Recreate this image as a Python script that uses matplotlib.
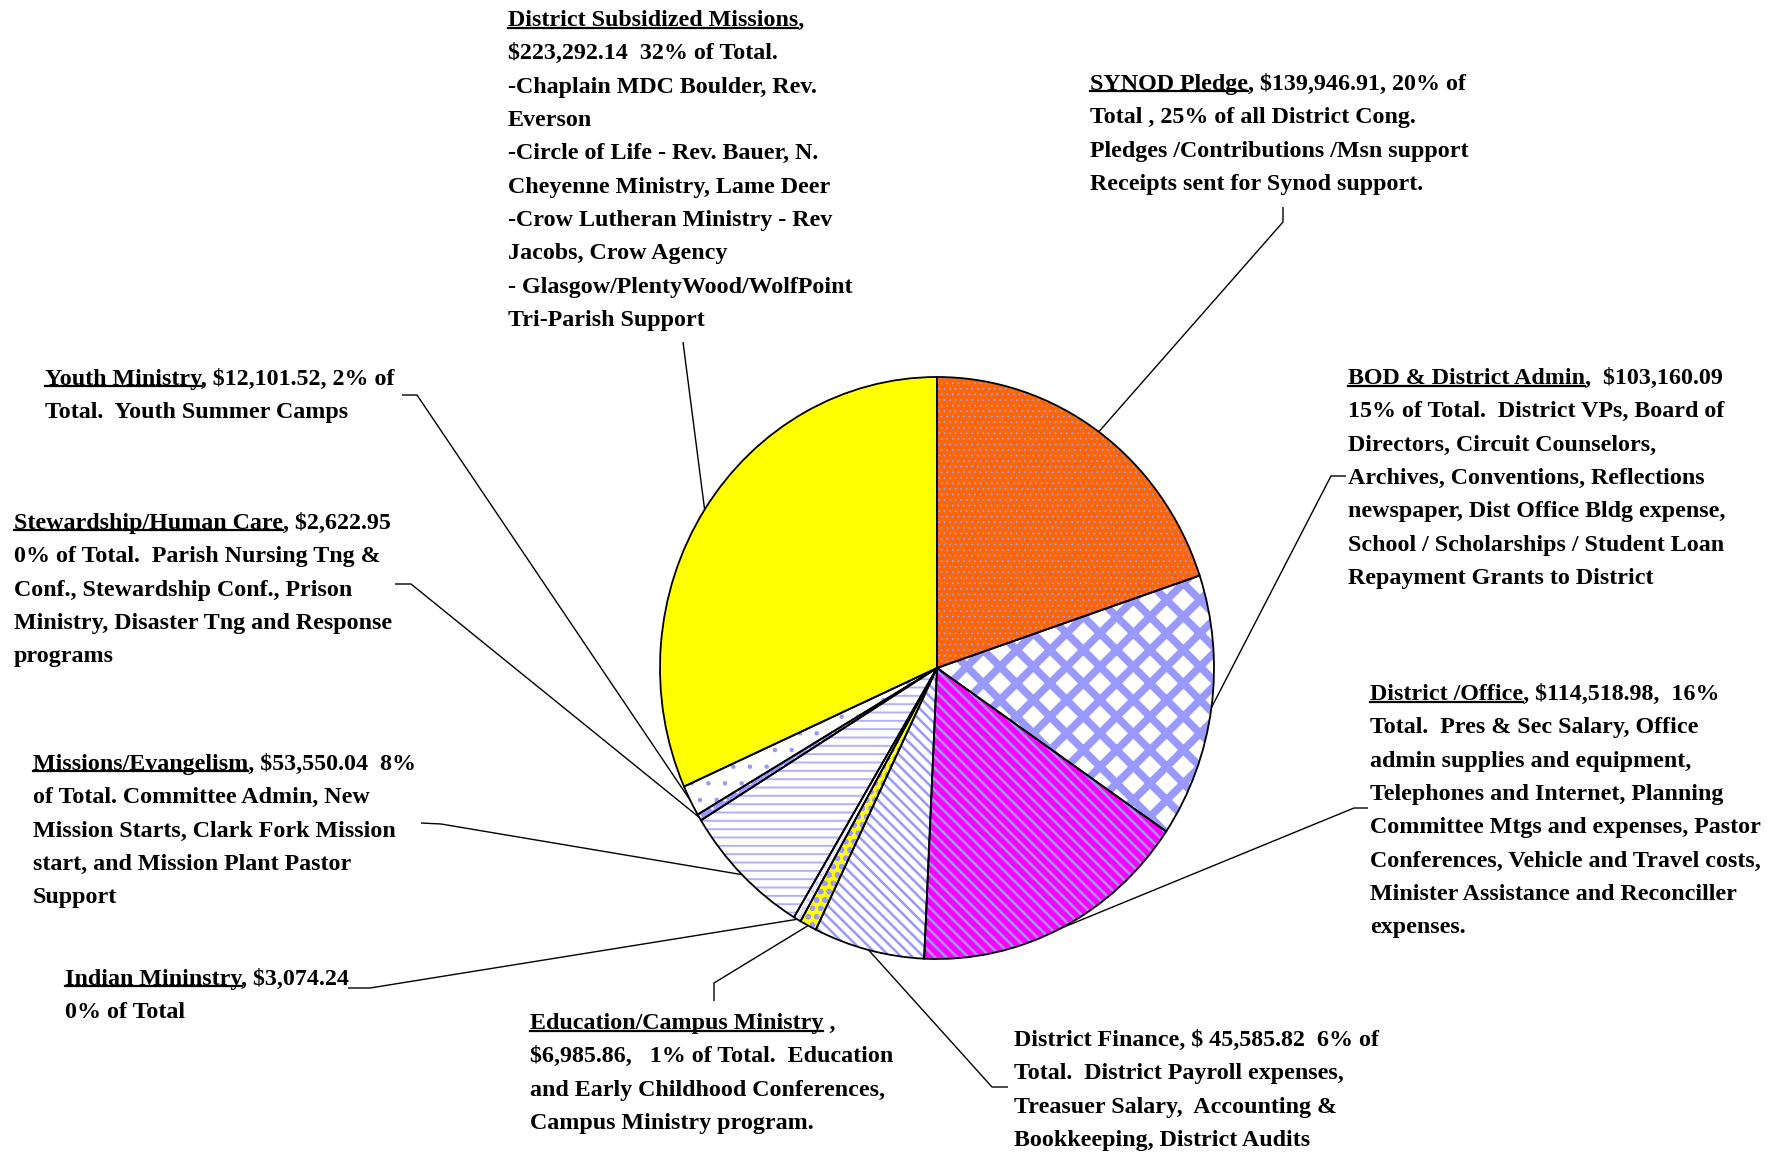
import matplotlib.pyplot as plt
import numpy as np

plt.rcParams['font.family'] = ['Liberation Serif', 'DejaVu Serif']
plt.rcParams['hatch.linewidth'] = 1.5

# district budget, slices listed clockwise from 12 o'clock
categories = ["SYNOD Pledge", "BOD & District Admin", "District /Office", "District Finance",
              "Education/Campus Ministry", "Indian Mininstry", "Missions/Evangelism",
              "Stewardship/Human Care", "Youth Ministry", "District Subsidized Missions"]
amounts = [139946.91, 103160.09, 114518.98, 45585.82, 6985.86,
           3074.24, 53550.04, 2622.95, 12101.52, 223292.14]

face_colors = ['#FF6600', 'white', '#FF00FF', 'white', '#FFFF00',
               '#EEEEFF', 'white', '#9999FF', 'white', '#FFFF00']
hatch_colors = ['#9999FF', '#9999FF', '#9999FF', '#9999FF', '#9999FF',
                '#CCCCFF', '#B0B0FF', 'white', '#9999FF', '#FFFF00']
hatches = ['...', 'x', '\\\\\\', '\\\\\\', 'oo', '..', '--', '..', '.', '']
hatch_widths = [0.7, 5.5, 1.8, 1.8, 1.5, 1.0, 1.4, 1.0, 0.8, 1.0]

label_texts = [
    "SYNOD Pledge, $139,946.91, 20% of\nTotal , 25% of all District Cong.\n"
    "Pledges /Contributions /Msn support\nReceipts sent for Synod support.",
    "BOD & District Admin,  $103,160.09\n15% of Total.  District VPs, Board of\n"
    "Directors, Circuit Counselors,\nArchives, Conventions, Reflections\n"
    "newspaper, Dist Office Bldg expense,\nSchool / Scholarships / Student Loan\n"
    "Repayment Grants to District",
    "District /Office, $114,518.98,  16%\nTotal.  Pres & Sec Salary, Office\n"
    "admin supplies and equipment,\nTelephones and Internet, Planning\n"
    "Committee Mtgs and expenses, Pastor\nConferences, Vehicle and Travel costs,\n"
    "Minister Assistance and Reconciller\nexpenses.",
    "District Finance, $ 45,585.82  6% of\nTotal.  District Payroll expenses,\n"
    "Treasuer Salary,  Accounting &\nBookkeeping, District Audits",
    "Education/Campus Ministry ,\n$6,985.86,   1% of Total.  Education\n"
    "and Early Childhood Conferences,\nCampus Ministry program.",
    "Indian Mininstry, $3,074.24\n0% of Total",
    "Missions/Evangelism, $53,550.04  8%\nof Total. Committee Admin, New\n"
    "Mission Starts, Clark Fork Mission\nstart, and Mission Plant Pastor\nSupport",
    "Stewardship/Human Care, $2,622.95\n0% of Total.  Parish Nursing Tng &\n"
    "Conf., Stewardship Conf., Prison\nMinistry, Disaster Tng and Response\nprograms",
    "Youth Ministry, $12,101.52, 2% of\nTotal.  Youth Summer Camps",
    "District Subsidized Missions,\n$223,292.14  32% of Total.\n"
    "-Chaplain MDC Boulder, Rev.\nEverson\n-Circle of Life - Rev. Bauer, N.\n"
    "Cheyenne Ministry, Lame Deer\n-Crow Lutheran Ministry - Rev\n"
    "Jacobs, Crow Agency\n- Glasgow/PlentyWood/WolfPoint\nTri-Parish Support",
]
underline_names = ["SYNOD Pledge", "BOD & District Admin", "District /Office", "",
                   "Education/Campus Ministry", "Indian Mininstry", "Missions/Evangelism",
                   "Stewardship/Human Care", "Youth Ministry", "District Subsidized Missions"]

# top-left corner of each label block (pixels)
label_pos = [(1090, 73), (1348, 368), (1370, 684), (1014, 1030), (530, 1013),
             (65, 968), (33, 753), (14, 512), (45, 368), (508, 10)]
# leader line start + elbow (pixels), the end is the slice edge
leader_start = [[(1283, 207), (1283, 222)], [(1346, 476), (1331, 476)],
                [(1368, 808), (1354, 808)], [(1008, 1087), (992, 1087)],
                [(714, 1001), (714, 983)], [(348, 988), (370, 988)],
                [(421, 823), (441, 824)], [(395, 584), (411, 584)],
                [(402, 395), (417, 395)], [(683, 342)]]

W, H = 1777, 1153
fig = plt.figure(figsize=(W / 100, H / 100), dpi=100)
ax = fig.add_axes([0, 0, 1, 1])
ax.set_xlim(0, W)
ax.set_ylim(H, 0)
ax.axis('off')

cx, cy, rx, ry = 937, 668, 277, 291
pax = fig.add_axes([(cx - rx) / W, (H - cy - ry) / H, 2 * rx / W, 2 * ry / H])
wedges, _ = pax.pie(amounts, startangle=90, counterclock=False, colors=face_colors,
                    wedgeprops=dict(linewidth=0))
for w, hc, ht, hw in zip(wedges, hatch_colors, hatches, hatch_widths):
    w.set_edgecolor(hc)
    w.set_hatch(ht)
    w.set_linewidth(0)
    if hasattr(w, 'set_hatch_linewidth'):
        w.set_hatch_linewidth(hw)
pax.pie(amounts, startangle=90, counterclock=False,
        wedgeprops=dict(fill=False, edgecolor='black', linewidth=1.3))
pax.set_aspect('auto')
pax.set_xlim(-1, 1)
pax.set_ylim(-1, 1)
pax.axis('off')

# leader lines to the middle of each slice edge
to_ax = pax.transData + ax.transData.inverted()
for w, pts in zip(wedges, leader_start):
    mid = np.deg2rad((w.theta1 + w.theta2) / 2)
    ex, ey = to_ax.transform((np.cos(mid), np.sin(mid)))
    xs = [p[0] for p in pts] + [ex]
    ys = [p[1] for p in pts] + [ey]
    ax.plot(xs, ys, color='black', lw=1, solid_capstyle='butt')

fs = 17.3
renderer = fig.canvas.get_renderer()
for txt, name, (x, y) in zip(label_texts, underline_names, label_pos):
    ax.text(x, y, txt, ha='left', va='top', fontsize=fs, fontweight='bold',
            linespacing=1.77)
    if name:
        t = ax.text(x, y, name, ha='left', va='top', fontsize=fs, fontweight='bold',
                    alpha=0)
        bb = t.get_window_extent(renderer).transformed(ax.transData.inverted())
        uy = max(bb.y0, bb.y1) - 3
        ax.plot([bb.x0, bb.x1], [uy, uy], color='black', lw=1.6)

fig.savefig('out.png', dpi=100)
